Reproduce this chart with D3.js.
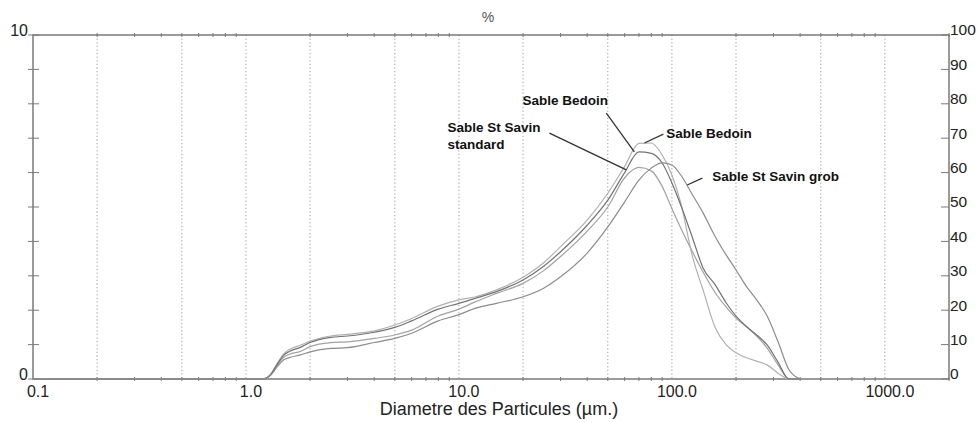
<!DOCTYPE html>
<html>
<head>
<meta charset="utf-8">
<script src="https://cdn.jsdelivr.net/npm/d3@7"></script>
<style>
  html, body { margin: 0; padding: 0; background: #fff; }
  #chart { width: 978px; height: 423px; }
</style>
</head>
<body>
<div id="chart"></div>
<script>
// particle diameters (µm) and % per size class
const diameters = [0.1, 1.2, 1.3, 1.4, 1.5, 1.6, 1.8, 2, 2.5, 3, 4, 5, 6, 8, 10, 12, 15, 20, 25, 30,
    40, 50, 60, 70, 80, 90, 100, 110, 125, 140, 160, 180, 200, 225, 250, 280, 315, 355, 400];
const bedoinA = [0, 0, 0.12, 0.45, 0.72, 0.86, 0.98, 1.1, 1.25, 1.3, 1.4, 1.57, 1.76, 2.12, 2.3, 2.39, 2.59, 2.96, 3.38, 3.85,
    4.62, 5.4, 6.18, 6.85, 6.86, 6.51, 5.93, 5.12, 3.55, 2.59, 1.48, 0.99, 0.76, 0.61, 0.52, 0.41, 0.17, 0, 0];
const bedoinB = [0, 0, 0.12, 0.42, 0.68, 0.8, 0.92, 1.06, 1.21, 1.25, 1.36, 1.5, 1.69, 2.03, 2.2, 2.35, 2.54, 2.88, 3.28, 3.7,
    4.47, 5.2, 6.0, 6.6, 6.56, 6.28, 5.7, 5.06, 4.1, 3.23, 2.73, 2.21, 1.83, 1.51, 1.28, 0.99, 0.49, 0, 0];
const savinStandard = [0, 0, 0.1, 0.4, 0.62, 0.72, 0.8, 0.94, 1.06, 1.08, 1.18, 1.28, 1.42, 1.83, 2.03, 2.25, 2.49, 2.78, 3.15, 3.56,
    4.3, 5.0, 5.85, 6.15, 6.05, 5.6, 4.95, 4.39, 3.69, 3.11, 2.5, 2.09, 1.77, 1.51, 1.25, 0.9, 0.41, 0, 0];
const savinGrob = [0, 0, 0.1, 0.35, 0.55, 0.62, 0.7, 0.79, 0.89, 0.91, 1.06, 1.18, 1.33, 1.69, 1.87, 2.06, 2.2, 2.39, 2.64, 2.97,
    3.66, 4.42, 5.15, 5.78, 6.13, 6.28, 6.22, 5.93, 5.35, 4.83, 4.13, 3.6, 3.17, 2.67, 2.3, 1.83, 1.08, 0.26, 0];

const xTickLabels = [0.1, 1, 10, 100, 1000];
const xGridValues = [0.2, 0.5, 1, 2, 5, 10, 20, 50, 100, 200, 500, 1000];
const yLeftLabels = [0, 10];
const yRightLabels = [0, 10, 20, 30, 40, 50, 60, 70, 80, 90, 100];

// annotation text, where the text sits and where the leader points (diameter, %)
const notes = [
    { lines: ["Sable Bedoin"], at: [19.9, 7.97], from: [49.2, 7.73], to: [66.6, 6.6] },
    { lines: ["Sable St Savin", "standard"], at: [8.84, 7.18], from: [26.6, 7.15], to: [61.1, 6.08] },
    { lines: ["Sable Bedoin"], at: [94.1, 7.0], from: [91.2, 7.12], to: [74.3, 6.86] },
    { lines: ["Sable St Savin grob"], at: [154.7, 5.76], from: [139, 5.84], to: [118, 5.64] }
];

class Chart {
    constructor() {
        const attrs = {
            container: "#chart",
            svgWidth: 978,
            svgHeight: 423,
            plotLeft: 33,
            plotRight: 949,
            plotTop: 35,
            plotBottom: 379,
            axisColor: "#7a7a7a",
            gridColor: "#9a9a9a",
            textColor: "#222",
            defaultFont: "Arial, 'Liberation Sans', Helvetica, sans-serif"
        };
        this.getState = () => attrs;
        this.setState = (d) => Object.assign(attrs, d);
    }

    render() {
        this.makeScales();
        this.drawSvg();
        this.drawFrame();
        this.drawCurves();
        this.drawNotes();
        return this;
    }

    makeScales() {
        const { plotLeft, plotRight, plotTop, plotBottom } = this.getState();
        const x = d3.scaleLog().domain([0.1, 2000]).range([plotLeft, plotRight]);
        const y = d3.scaleLinear().domain([0, 10]).range([plotBottom, plotTop]);
        const yRight = d3.scaleLinear().domain([0, 100]).range([plotBottom, plotTop]);
        this.setState({ x, y, yRight });
    }

    drawSvg() {
        const { container, svgWidth, svgHeight, defaultFont } = this.getState();
        const svg = d3.select(container).append("svg")
            .attr("width", svgWidth)
            .attr("height", svgHeight)
            .attr("font-family", defaultFont);
        svg.append("rect").attr("width", svgWidth).attr("height", svgHeight).attr("fill", "#fff");
        this.setState({ svg });
    }

    drawFrame() {
        const { svg, x, y, yRight, plotLeft, plotRight, plotTop, plotBottom,
            axisColor, gridColor, textColor } = this.getState();

        // dotted vertical grid
        svg.append("g").selectAll("line").data(xGridValues).join("line")
            .attr("x1", d => x(d)).attr("x2", d => x(d))
            .attr("y1", plotTop).attr("y2", plotBottom)
            .attr("stroke", gridColor)
            .attr("stroke-width", 1)
            .attr("stroke-dasharray", "1.2,2.4");

        // minor ticks on top & bottom
        const minor = [];
        [0.1, 1, 10, 100, 1000].forEach(dec => {
            for (let k = 2; k <= 9; k++) if (dec * k <= 2000) minor.push(dec * k);
        });
        [plotTop, plotBottom].forEach(yy => {
            svg.append("g").selectAll("line").data(minor).join("line")
                .attr("x1", d => x(d)).attr("x2", d => x(d))
                .attr("y1", yy - 2).attr("y2", yy + 2)
                .attr("stroke", axisColor).attr("stroke-width", 1);
        });

        // frame
        svg.append("rect")
            .attr("x", plotLeft).attr("y", plotTop)
            .attr("width", plotRight - plotLeft).attr("height", plotBottom - plotTop)
            .attr("fill", "none").attr("stroke", axisColor).attr("stroke-width", 1.5);

        // left ticks (crossing)
        svg.append("g").selectAll("line").data(d3.range(0, 11)).join("line")
            .attr("x1", plotLeft - 5).attr("x2", plotLeft + 6)
            .attr("y1", d => y(d)).attr("y2", d => y(d))
            .attr("stroke", axisColor).attr("stroke-width", 1);

        // right ticks (inside)
        svg.append("g").selectAll("line").data(yRightLabels).join("line")
            .attr("x1", plotRight - 8).attr("x2", plotRight)
            .attr("y1", d => yRight(d)).attr("y2", d => yRight(d))
            .attr("stroke", axisColor).attr("stroke-width", 1);

        svg.append("g").selectAll("text").data(yLeftLabels).join("text")
            .attr("x", plotLeft - 5)
            .attr("y", d => y(d) - 5)
            .attr("dy", "0.35em")
            .attr("text-anchor", "end")
            .attr("font-size", 16)
            .attr("fill", textColor)
            .text(d => d);

        svg.append("g").selectAll("text").data(yRightLabels).join("text")
            .attr("x", plotRight + 1)
            .attr("y", d => yRight(d) - 5)
            .attr("dy", "0.35em")
            .attr("font-size", 15.5)
            .attr("fill", textColor)
            .text(d => d);

        svg.append("g").selectAll("text").data(xTickLabels).join("text")
            .attr("x", d => x(d) + 5)
            .attr("y", plotBottom + 18)
            .attr("text-anchor", "middle")
            .attr("font-size", 16)
            .attr("fill", textColor)
            .text(d => d3.format(".1f")(d));

        svg.append("text")
            .attr("x", 499).attr("y", plotBottom + 36)
            .attr("text-anchor", "middle")
            .attr("font-size", 18)
            .attr("fill", textColor)
            .text("Diametre des Particules (µm.)");

        svg.append("text")
            .attr("x", 488).attr("y", 22)
            .attr("text-anchor", "middle")
            .attr("font-size", 14)
            .attr("fill", "#555")
            .text("%");
    }

    drawCurves() {
        const { svg, x, y } = this.getState();
        const series = [
            { name: "Sable Bedoin A", values: bedoinA, color: "#b0b0b0" },
            { name: "Sable St Savin standard", values: savinStandard, color: "#a2a2a2" },
            { name: "Sable Bedoin B", values: bedoinB, color: "#737373" },
            { name: "Sable St Savin grob", values: savinGrob, color: "#8c8c8c" }
        ];
        const line = d3.line()
            .x(d => x(d[0]))
            .y(d => y(d[1]))
            .curve(d3.curveMonotoneX);

        svg.append("g").selectAll("path").data(series).join("path")
            .attr("d", s => line(diameters.map((d, i) => [d, s.values[i]])))
            .attr("fill", "none")
            .attr("stroke", s => s.color)
            .attr("stroke-width", 1.2);
    }

    drawNotes() {
        const { svg, x, y } = this.getState();
        const g = svg.append("g");
        g.selectAll("line").data(notes).join("line")
            .attr("x1", d => x(d.from[0])).attr("y1", d => y(d.from[1]))
            .attr("x2", d => x(d.to[0])).attr("y2", d => y(d.to[1]))
            .attr("stroke", "#333").attr("stroke-width", 1.3);

        notes.forEach(n => {
            n.lines.forEach((t, i) => {
                g.append("text")
                    .attr("x", x(n.at[0]))
                    .attr("y", y(n.at[1]) + i * 17)
                    .attr("font-size", 13.5)
                    .attr("font-weight", "bold")
                    .attr("fill", "#111")
                    .text(t);
            });
        });
    }
}

new Chart().render();
</script>
</body>
</html>
